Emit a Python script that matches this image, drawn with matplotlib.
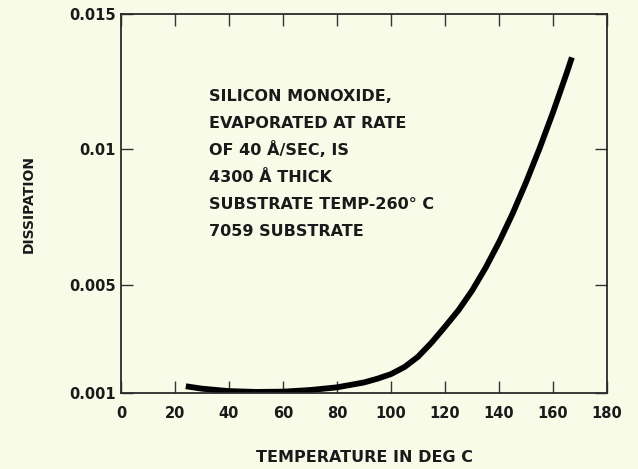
import matplotlib
matplotlib.use("Agg")
import matplotlib.pyplot as plt

# dissipation of SiO film vs temperature
temp_c = [24, 30, 40, 50, 60, 70, 80, 90, 95, 100, 105, 110, 115, 120, 125,
          130, 135, 140, 145, 150, 155, 160, 165, 167]
dissipation = [0.00125, 0.00116, 0.00107, 0.00104, 0.00105, 0.00111, 0.00121,
               0.00139, 0.00153, 0.00170, 0.00196, 0.00234, 0.00286, 0.00345,
               0.00406, 0.00478, 0.00562, 0.00657, 0.00762, 0.00878, 0.01003,
               0.01137, 0.01280, 0.01340]

x_ticks = [0, 20, 40, 60, 80, 100, 120, 140, 160, 180]
y_ticks = [0.001, 0.005, 0.01, 0.015]
y_tick_labels = ["0.001", "0.005", "0.01", "0.015"]

note_lines = ["SILICON MONOXIDE,",
              "EVAPORATED AT RATE",
              "OF 40 Å/SEC, IS",
              "4300 Å THICK",
              "SUBSTRATE TEMP-260° C",
              "7059 SUBSTRATE"]

bg = "#f9fbe9"
ink = "#1a1a1a"

plt.rcParams["font.family"] = ["DejaVu Sans"]

fig = plt.figure(figsize=(6.38, 4.69), dpi=100, facecolor=bg)
ax = fig.add_axes([0.1897, 0.162, 0.7617, 0.808], facecolor=bg)

ax.plot(temp_c, dissipation, color="black", lw=4.2, solid_capstyle="butt")

ax.set_xlim(0, 180)
ax.set_ylim(0.001, 0.015)
ax.set_xticks(x_ticks)
ax.set_yticks(y_ticks)
ax.set_yticklabels(y_tick_labels)
ax.tick_params(direction="in", length=8.5, width=1.0, color="#333333",
               top=True, right=True, labelsize=10.5, labelcolor=ink, pad=4)
ax.tick_params(axis="x", pad=9)
for lab in ax.get_xticklabels() + ax.get_yticklabels():
    lab.set_fontweight("bold")
for sp in ax.spines.values():
    sp.set_linewidth(1.3)
    sp.set_color("#2a2a2a")

ax.set_xlabel("TEMPERATURE IN DEG C", fontsize=11.5, fontweight="bold",
              color=ink, labelpad=21)
ax.set_ylabel("DISSIPATION", fontsize=10, fontweight="bold", color=ink,
              labelpad=24)

# note block, one line at a time so the Å lines keep even spacing
for i, line in enumerate(note_lines):
    ax.text(0.181, 0.770 - i * 0.0712, line, transform=ax.transAxes,
            fontsize=11.5, fontweight="bold", color=ink,
            va="baseline", ha="left")

fig.savefig("out.png", dpi=100, facecolor=bg)
